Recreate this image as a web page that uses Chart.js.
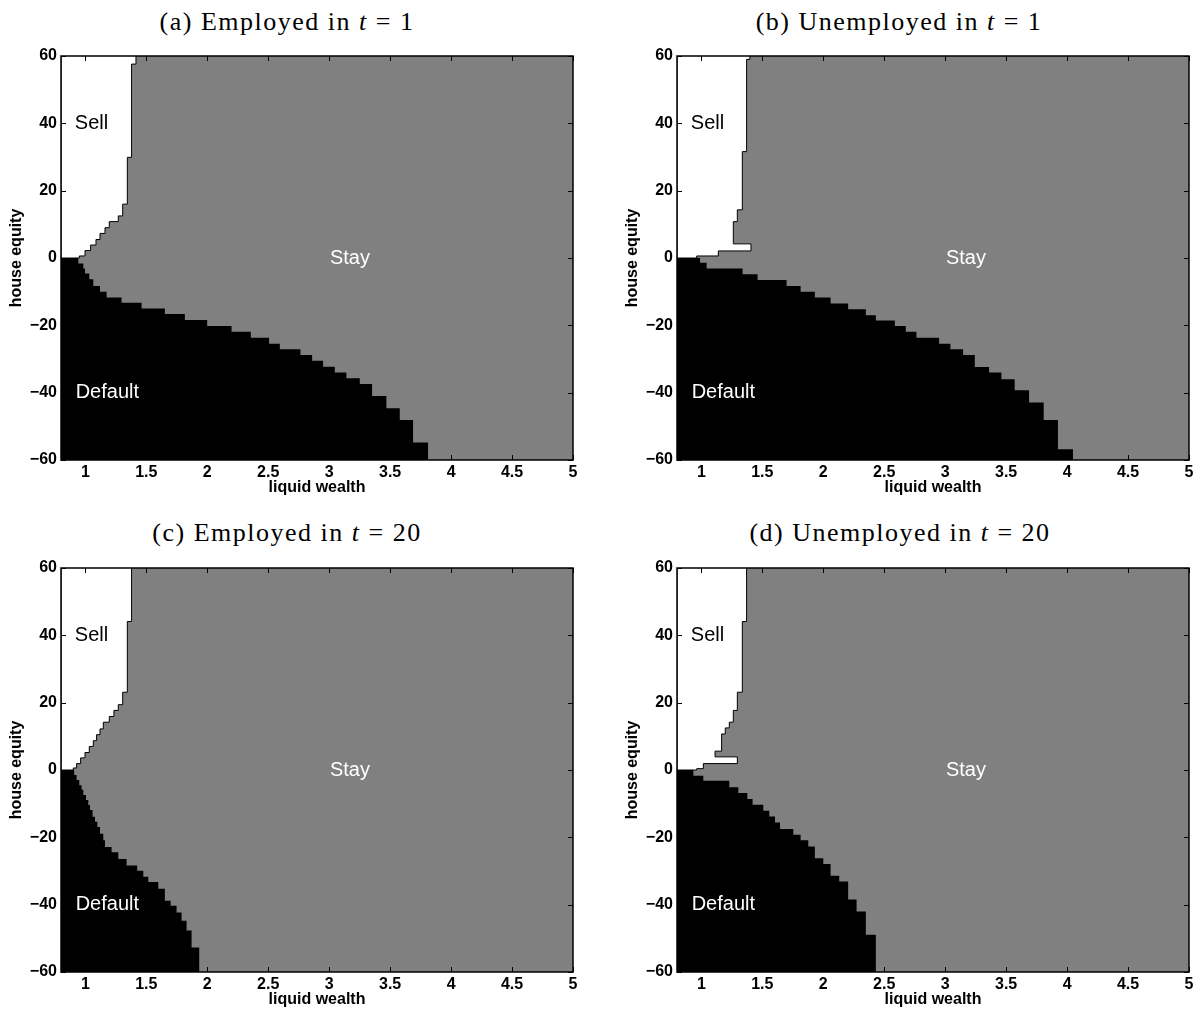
<!DOCTYPE html>
<html>
<head>
<meta charset="utf-8">
<script src="https://cdn.jsdelivr.net/npm/chart.js@4.4.0/dist/chart.umd.min.js"></script>
<style>
  html, body { margin: 0; padding: 0; background: #fff; }
  #fig { position: relative; width: 1203px; height: 1014px; overflow: hidden; }
  .panel { position: absolute; }
  .ttl { position: absolute; font-family: 'Liberation Serif', 'Times New Roman', serif; font-size: 26px;
         letter-spacing: 1.5px; line-height: 30px; color: #000; white-space: nowrap; transform: translateX(-50%); }
</style>
</head>
<body>
<div id="fig">
  <div class="ttl" style="left:287px; top:7px">(a) Employed in <i>t</i> = 1</div>
  <div class="ttl" style="left:899px; top:7px">(b) Unemployed in <i>t</i> = 1</div>
  <div class="ttl" style="left:287px; top:518px">(c) Employed in <i>t</i> = 20</div>
  <div class="ttl" style="left:900px; top:518px">(d) Unemployed in <i>t</i> = 20</div>
  <div class="panel" style="left:0px; top:40px"><canvas id="ca" width="590" height="462"></canvas></div>
  <div class="panel" style="left:616px; top:40px"><canvas id="cb" width="590" height="462"></canvas></div>
  <div class="panel" style="left:0px; top:552px"><canvas id="cc" width="590" height="462"></canvas></div>
  <div class="panel" style="left:616px; top:552px"><canvas id="cd" width="590" height="462"></canvas></div>
</div>
<script>
// axis ranges and ticks
const xMin = 0.8, xMax = 5, yMin = -60, yMax = 60;
const xTicks = [1, 1.5, 2, 2.5, 3, 3.5, 4, 4.5, 5];
const yTicks = [-60, -40, -20, 0, 20, 40, 60];

// region labels (name, colour, where it sits in data units)
const regionNames = ['Sell', 'Stay', 'Default'];
const regionColors = ['#000', '#fff', '#fff'];
const regionLabelX = [1.05, 3.17, 1.18];
const regionLabelY = [40, 0, -40];

// (a) employed, t = 1
// default boundary: flat until x, then step down to y
const defA_x = [0.8, 0.942, 0.983, 0.997, 1.032, 1.065, 1.120, 1.174, 1.297, 1.461, 1.652, 1.816, 1.999, 2.199, 2.357, 2.507, 2.595, 2.764, 2.860, 2.950, 3.046, 3.141, 3.251, 3.352, 3.469, 3.579, 3.688, 3.811];
const defA_y = [0, -1.6, -3.1, -4.6, -6.3, -8.3, -10.0, -11.7, -13.3, -15.0, -16.6, -18.4, -20.2, -21.9, -23.7, -25.5, -27.1, -28.8, -30.5, -32.3, -34.0, -35.7, -37.4, -41.0, -44.6, -48.1, -54.8, -60];
// sell boundary from the top down: drop to y, then move across to x
const sellA_x = [1.415, 1.379, 1.344, 1.306, 1.270, 1.196, 1.161, 1.120, 1.087, 1.043, 0.997, 0.950, 0.8];
const sellA_y = [60, 57.6, 29.9, 16.0, 12.5, 10.8, 9.0, 7.3, 5.5, 3.85, 2.2, 0.6, 0];

// (b) unemployed, t = 1
const defB_x = [0.8, 0.989, 1.043, 1.338, 1.461, 1.699, 1.814, 1.931, 2.060, 2.204, 2.349, 2.431, 2.587, 2.677, 2.764, 2.950, 3.043, 3.147, 3.243, 3.360, 3.461, 3.570, 3.688, 3.808, 3.925, 4.048];
const defB_y = [0, -1.4, -3.1, -4.8, -6.5, -8.3, -10.0, -11.7, -13.5, -15.2, -17.0, -18.6, -20.2, -21.9, -23.7, -25.5, -27.1, -28.8, -32.4, -34.0, -36.0, -39.3, -42.9, -48.1, -56.8, -60];
const sellB_x = [1.398, 1.371, 1.336, 1.295, 1.262, 1.407, 1.139, 0.962, 0.8];
const sellB_y = [60, 59.0, 31.6, 14.3, 10.8, 4.2, 2.1, 0.6, 0];

// (c) employed, t = 20
const defC_x = [0.8, 0.908, 0.928, 0.950, 0.969, 0.983, 1.005, 1.024, 1.038, 1.059, 1.079, 1.098, 1.120, 1.147, 1.161, 1.215, 1.270, 1.338, 1.425, 1.475, 1.516, 1.598, 1.652, 1.699, 1.748, 1.789, 1.830, 1.871, 1.934];
const defC_y = [0, -1.5, -3.0, -4.5, -5.9, -7.4, -8.9, -10.4, -11.9, -13.9, -15.4, -16.9, -18.9, -20.9, -22.9, -24.4, -26.4, -28.4, -29.9, -31.7, -33.3, -35.3, -38.8, -40.3, -42.3, -44.8, -47.7, -52.7, -60];
const sellC_x = [1.379, 1.344, 1.306, 1.270, 1.234, 1.196, 1.147, 1.120, 1.092, 1.065, 1.032, 0.997, 0.961, 0.928, 0.901, 0.8];
const sellC_y = [60, 44.1, 23.1, 19.4, 17.7, 15.9, 14.2, 12.2, 10.5, 8.7, 7.0, 5.2, 3.6, 1.9, 0.6, 0];

// (d) unemployed, t = 20
const defD_x = [0.8, 0.934, 1.016, 1.229, 1.303, 1.377, 1.420, 1.508, 1.557, 1.604, 1.645, 1.754, 1.814, 1.877, 1.931, 2.000, 2.060, 2.131, 2.204, 2.273, 2.349, 2.431];
const defD_y = [0, -1.7, -3.2, -5.1, -6.8, -8.6, -10.3, -12.1, -13.8, -15.6, -17.5, -19.2, -20.9, -22.7, -26.2, -27.9, -31.4, -33.1, -38.5, -42.0, -48.9, -60];
const sellD_x = [1.371, 1.336, 1.295, 1.262, 1.229, 1.196, 1.166, 1.112, 1.295, 1.016, 0.962, 0.8];
const sellD_y = [60, 44.1, 23.1, 17.7, 14.2, 12.5, 10.7, 5.6, 3.9, 1.9, 0.4, 0];

const FONT = '"Liberation Sans", Arial, Helvetica, sans-serif';

const regionPlot = {
  id: 'regionPlot',
  beforeDraw(chart) {
    const { ctx, chartArea: a } = chart;
    ctx.save();
    ctx.fillStyle = '#808080';
    ctx.fillRect(a.left, a.top, a.right - a.left, a.bottom - a.top);
    ctx.restore();
  },
  afterDatasetsDraw(chart) {
    const { ctx, chartArea: a, scales: { x, y } } = chart;
    ctx.save();
    ctx.font = '20px ' + FONT;
    ctx.textAlign = 'center';
    ctx.textBaseline = 'middle';
    regionNames.forEach((name, i) => {
      ctx.fillStyle = regionColors[i];
      ctx.fillText(name, x.getPixelForValue(regionLabelX[i]), y.getPixelForValue(regionLabelY[i]));
    });
    // inward tick marks on all four sides
    ctx.strokeStyle = '#000';
    ctx.lineWidth = 1;
    ctx.beginPath();
    x.ticks.forEach((t) => {
      const px = Math.round(x.getPixelForValue(t.value)) + 0.5;
      ctx.moveTo(px, a.bottom); ctx.lineTo(px, a.bottom - 5);
      ctx.moveTo(px, a.top); ctx.lineTo(px, a.top + 5);
    });
    y.ticks.forEach((t) => {
      const py = Math.round(y.getPixelForValue(t.value)) + 0.5;
      ctx.moveTo(a.left, py); ctx.lineTo(a.left + 5, py);
      ctx.moveTo(a.right, py); ctx.lineTo(a.right - 5, py);
    });
    ctx.stroke();
    ctx.lineWidth = 1.5;
    ctx.strokeRect(a.left, a.top, a.right - a.left, a.bottom - a.top);
    ctx.restore();
  },
};

function pts(xs, ys) {
  return xs.map((x, i) => ({ x, y: ys[i] }));
}

function drawPanel(id, defX, defY, sellX, sellY) {
  const def = pts(defX, defY);
  def.push({ x: xMin, y: yMin });
  const sell = pts(sellX, sellY);
  sell.push({ x: xMin, y: yMax });
  const tickFont = { family: FONT, size: 16, weight: 'bold' };
  return new Chart(document.getElementById(id), {
    type: 'scatter',
    data: {
      datasets: [
        // Chart.js 'after' = vertical move first, 'before' = horizontal move first
        { label: 'Sell', data: sell, showLine: true, stepped: 'after', fill: 'shape',
          backgroundColor: '#fff', borderColor: '#000', borderWidth: 1, pointRadius: 0 },
        { label: 'Default', data: def, showLine: true, stepped: 'before', fill: 'shape',
          backgroundColor: '#000', borderColor: '#000', borderWidth: 0, pointRadius: 0 },
      ],
    },
    options: {
      responsive: false,
      animation: false,
      events: [],
      layout: { padding: { left: 0, right: 17, top: 16, bottom: 2 } },
      plugins: { legend: { display: false }, tooltip: { enabled: false } },
      scales: {
        x: {
          type: 'linear', min: xMin, max: xMax,
          afterBuildTicks: (s) => { s.ticks = xTicks.map((v) => ({ value: v })); },
          afterFit: (s) => { s.height = 40; },
          grid: { display: false, drawTicks: false },
          border: { display: false },
          ticks: { color: '#000', font: tickFont, padding: 3, maxRotation: 0, autoSkip: false,
            callback: (v) => String(v) },
          title: { display: true, text: 'liquid wealth', color: '#000', font: tickFont, padding: { top: 0, bottom: 3 } },
        },
        y: {
          type: 'linear', min: yMin, max: yMax,
          afterBuildTicks: (s) => { s.ticks = yTicks.map((v) => ({ value: v })); },
          afterFit: (s) => { s.width = 61; },
          grid: { display: false, drawTicks: false },
          border: { display: false },
          ticks: {
            color: '#000', font: tickFont, padding: 4, autoSkip: false,
            callback: (v) => (v < 0 ? '\u2212' + Math.abs(v) : String(v)),
          },
          title: { display: true, text: 'house equity', color: '#000', font: tickFont, padding: { top: 7, bottom: 0 } },
        },
      },
    },
    plugins: [regionPlot],
  });
}

drawPanel('ca', defA_x, defA_y, sellA_x, sellA_y);
drawPanel('cb', defB_x, defB_y, sellB_x, sellB_y);
drawPanel('cc', defC_x, defC_y, sellC_x, sellC_y);
drawPanel('cd', defD_x, defD_y, sellD_x, sellD_y);
</script>
</body>
</html>
